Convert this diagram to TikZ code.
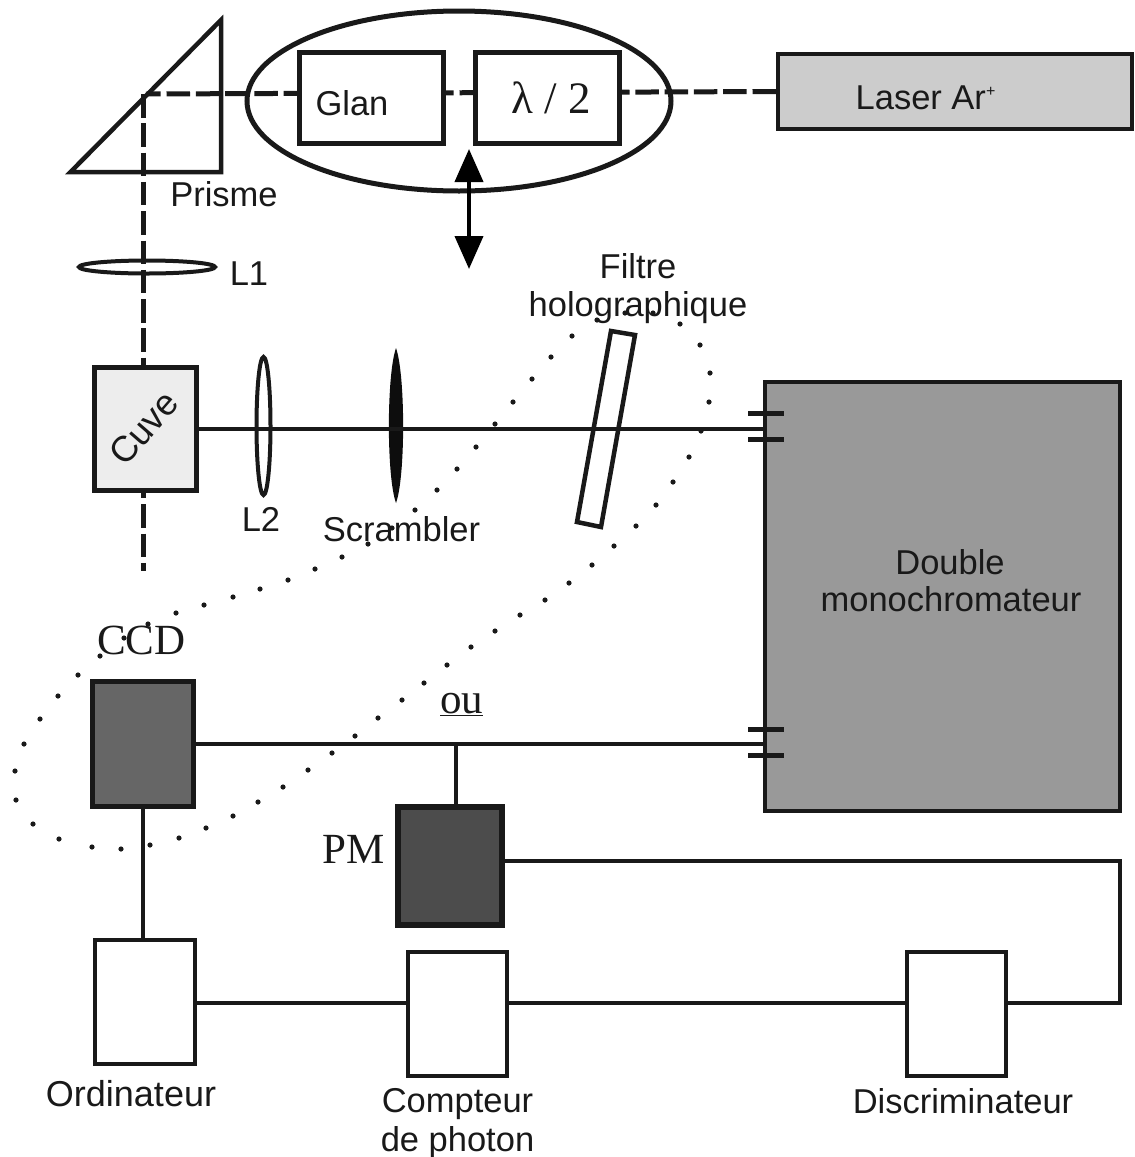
\documentclass[tikz,border=0pt]{standalone}
\usepackage{fontspec}
\setmainfont{Liberation Sans}
\newfontfamily\seriffont{Liberation Serif}
\usetikzlibrary{arrows.meta,shapes.geometric}
\tikzset{
    opticbox/.style={draw=black!90,line width=4pt,inner sep=0pt,fill=white},
    sanstext/.style={inner sep=0pt,anchor=base,align=center,text=black!90,font=\fontsize{34.5}{38}\selectfont},
    seriftext/.style={inner sep=0pt,anchor=base,text=black!90,font=\seriffont\fontsize{43}{48}\selectfont},
    wire/.style={draw=black!90,line width=4pt},
    beam/.style={draw=black!90,line width=5pt,dash pattern=on 23.5pt off 5.8pt}
}
\begin{document}
\begin{tikzpicture}[x=1pt,y=-1pt]
    \useasboundingbox (0,0) rectangle (1135,1157);

    % Coordinates of the beam ends
    \coordinate (P) at (146,94);
    \coordinate (Q) at (143.5,94);
    \coordinate (R) at (143.5,571);
    \coordinate (U) at (469,149);
    \coordinate (V) at (469,269);
    \coordinate (W) at (1120,861);
    \coordinate (X) at (1120,1003);
    \coordinate (J) at (456,743);

    % The dotted loop
    \foreach \x/\y in {572/336,551/357,532/379,513/402,495/424,476/447,457/469,437/490,
        415/510,392/528,368/544,342/557,315/569,288/580,260/589,233/597,204/605,176/613,
        148/624,124/638,100/656,78/675,58/696,40/719,24/744,15/771,16/800,33/824,59/839,
        92/847,121/849,150/845,179/838,206/828,233/816,258/802,283/787,308/770,332/753,
        355/736,378/718,402/700,424/683,447/665,471/647,495/631,520/615,545/600,569/583,
        592/565,614/546,636/526,656/505,673/482,689/457,701/431,709/402,710/373,700/345,
        680/324,653/313,625/313,597/320}
        \fill[black!90] (\x,\y) circle (2.6pt);

    % The polarisation ellipse
    \node[draw=black!90,line width=5pt,shape=ellipse,inner sep=0pt,minimum width=424pt,minimum height=180pt] (pola) at (459,101) {};

    % The boxes
    \node[opticbox,fill=black!20,minimum width=354pt,minimum height=75pt] (laser) at (955,91.5) {};
    \node[opticbox,fill=black!40,minimum width=355pt,minimum height=429pt] (mono) at (942.5,596.5) {};

    % The laser beam
    \draw[beam] (laser.west) -- (P);
    \draw[beam] (Q) -- (R);

    \node[opticbox,line width=5pt,minimum width=144pt,minimum height=91pt] (glan) at (371,97.5) {};
    \node[opticbox,line width=5pt,minimum width=144pt,minimum height=91pt] (lambda) at (547,97.5) {};
    \node[opticbox,line width=5pt,fill=black!7,minimum width=102pt,minimum height=123pt] (cuve) at (145,428.5) {};
    \node[opticbox,line width=5pt,fill=black!60,minimum width=101pt,minimum height=125pt] (ccd) at (142.5,743.5) {};
    \node[opticbox,line width=6pt,fill=black!70,minimum width=104pt,minimum height=118pt] (pm) at (450,866) {};
    \node[opticbox,minimum width=100pt,minimum height=124pt] (ordi) at (145,1001.5) {};
    \node[opticbox,minimum width=99pt,minimum height=124pt] (compteur) at (457.5,1014) {};
    \node[opticbox,minimum width=99pt,minimum height=124pt] (discri) at (956.5,1014) {};

    % The prism
    \draw[black!90,line width=4.5pt] (70.5,172) -- (221,20) -- (221,172) -- cycle;

    % The lenses
    \node[draw=black!90,line width=4pt,shape=ellipse,inner sep=0pt,minimum width=136pt,minimum height=13pt] (Lone) at (147,267) {};
    \node[draw=black!90,line width=4pt,shape=ellipse,inner sep=0pt,minimum width=14pt,minimum height=138pt] (Ltwo) at (263.5,426) {};
    \fill[black!95] (396,348) .. controls (386.5,375) and (386.5,477) .. (396,503)
        .. controls (405.5,477) and (405.5,375) .. (396,348);

    % The signal beam and the filter
    \draw[wire] (cuve.east) -- (cuve.east -| mono.west);
    \draw[black!90,line width=4.5pt] (611,331) -- (635,335) -- (601,527) -- (577,522) -- cycle;

    % The slits
    \draw[black!90,line width=5pt] (748,413) -- (784,413);
    \draw[black!90,line width=5pt] (748,439) -- (784,439);
    \draw[black!90,line width=5pt] (748,729) -- (784,729);
    \draw[black!90,line width=5pt] (748,755) -- (784,755);

    % The wires
    \draw[wire] (ccd.east) -- (ccd.east -| mono.west);
    \draw[wire] (J) -- (J |- pm.north);
    \draw[wire] (ccd.south) -- (ccd.south |- ordi.north);
    \draw[wire] (pm.east |- W) -- (W) -- (X) -- (X -| discri.east);
    \draw[wire] (ordi.east |- X) -- (X -| compteur.west);
    \draw[wire] (X -| compteur.east) -- (X -| discri.west);

    % The double arrow
    \draw[black,line width=4pt,{Triangle[width=28pt,length=33pt]}-{Triangle[width=28pt,length=33pt]}] (U) -- (V);

    % The labels
    \node[sanstext] (tglan) at (352,115) {Glan};
    \node[sanstext] (tlaser) at (925.5,109) {Laser Ar\raisebox{13pt}{\fontsize{16}{16}\selectfont +}};
    \node[sanstext] (tprisme) at (224,206) {Prisme};
    \node[sanstext] (tlone) at (249,285) {L1};
    \node[sanstext] (tfiltre) at (638,278) {Filtre};
    \node[sanstext] (tholo) at (638,316) {holographique};
    \node[sanstext] (tltwo) at (261,531) {L2};
    \node[sanstext] (tscrambler) at (401.5,541) {Scrambler};
    \node[sanstext] (tdouble) at (950,574) {Double};
    \node[sanstext] (tmono) at (951,611) {monochromateur};
    \node[sanstext,font=\fontsize{36}{38}\selectfont] (tordi) at (131,1106) {Ordinateur};
    \node[sanstext] (tcompteur) at (457.5,1112) {Compteur};
    \node[sanstext] (tphoton) at (457.5,1151) {de photon};
    \node[sanstext] (tdiscri) at (963,1113) {Discriminateur};
    \node[sanstext,font=\fontsize{36}{38}\selectfont,rotate=49,anchor=center] (tcuve) at (143.5,428) {Cuve};
    \node[seriftext,font=\seriffont\fontsize{45}{48}\selectfont] (tlambda) at (551,113) {λ / 2};
    \node[seriftext] (tccd) at (141.5,654) {CCD};
    \node[seriftext] (tou) at (461.5,713) {\underline{ou}};
    \node[seriftext] (tpm) at (353.5,863) {PM};
\end{tikzpicture}
\end{document}
